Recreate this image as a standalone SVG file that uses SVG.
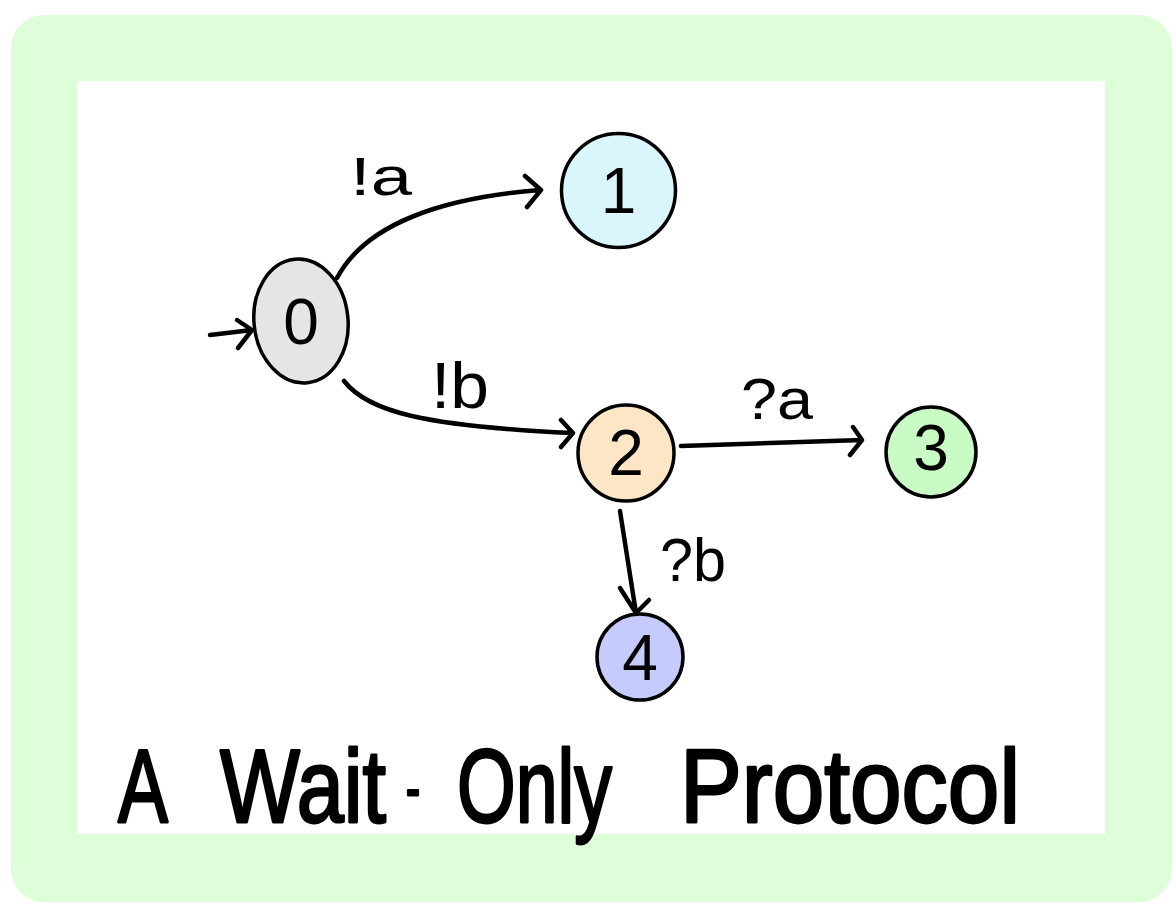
<svg xmlns="http://www.w3.org/2000/svg" width="1176" height="909" viewBox="0 0 1176 909">
<style>
.node{stroke:#000;stroke-width:3.5}
.num{font-family:"Liberation Sans",Arial,sans-serif;font-size:64px;text-anchor:middle;fill:#000}
.lbl{font-family:"Liberation Sans",Arial,sans-serif;fill:#000}
.edge{fill:none;stroke:#000;stroke-width:4.5;stroke-linecap:round;stroke-linejoin:round}
</style>
<rect x="0" y="0" width="1176" height="909" fill="#ffffff"/>
<path d="M11,48 A33,33 0 0 1 44,15 H1139 A33,33 0 0 1 1172,48 V869 A33,33 0 0 1 1139,902 H44 A33,33 0 0 1 11,869 Z M77,81 V834 H1105 V81 Z" fill="#ddfed8" fill-rule="evenodd"/>
<g id="node0">
<ellipse class="node" cx="301" cy="321" rx="47" ry="62" transform="rotate(-6 301 321)" fill="#e5e5e5"/>
<text class="num" x="301" y="344">0</text>
</g>
<g id="node1">
<circle class="node" cx="618.5" cy="190.5" r="57" fill="#d9f6fc"/>
<text class="num" x="618.5" y="213">1</text>
</g>
<g id="node2">
<circle class="node" cx="626" cy="453" r="48" fill="#fde6c6"/>
<text class="num" x="626" y="475">2</text>
</g>
<g id="node3">
<circle class="node" cx="931" cy="452" r="45" fill="#c8fcc4"/>
<text class="num" x="931" y="470" font-size="52">3</text>
</g>
<g id="node4">
<circle class="node" cx="640" cy="657" r="43" fill="#c5cbfc"/>
<text class="num" x="640" y="680">4</text>
</g>
<g id="connectors">
<path class="edge" d="M210,335 L252,330 M237,320 L252,330 L238,348"/>
<path class="edge" d="M337,278 C365,225 440,198 540,190 M525,176 L541,190 L527,207"/>
<path class="edge" d="M344,381 C368,412 425,426 572,433 M561,420 L573,433 L561,447"/>
<path class="edge" d="M681,446 L862,440 M853,427 L862,440 L850,455"/>
<path class="edge" d="M620,511 L636,613 M620,588 L636,613 L649,600"/>
</g>
<g id="labels">
<text class="lbl" x="350" y="195" font-size="54" textLength="62" lengthAdjust="spacingAndGlyphs">!a</text>
<text class="lbl" x="431" y="408" font-size="64" textLength="58" lengthAdjust="spacingAndGlyphs">!b</text>
<text class="lbl" x="741" y="419" font-size="58" textLength="72" lengthAdjust="spacingAndGlyphs">?a</text>
<text class="lbl" x="660" y="581" font-size="62" textLength="66" lengthAdjust="spacingAndGlyphs">?b</text>
</g>
<text class="lbl" transform="scale(0.8 1)" y="822" font-size="104" stroke="#000" stroke-width="2.8" stroke-linejoin="round"><tspan x="147.5" textLength="62.5" lengthAdjust="spacingAndGlyphs">A</tspan> <tspan x="275" textLength="207.5" lengthAdjust="spacingAndGlyphs">Wait</tspan><tspan x="507.5" y="808" font-size="60" textLength="17.5" lengthAdjust="spacingAndGlyphs">-</tspan><tspan x="571.25" y="822" textLength="193.75" lengthAdjust="spacingAndGlyphs">Only</tspan> <tspan x="850" textLength="425" lengthAdjust="spacingAndGlyphs">Protocol</tspan></text>
</svg>
